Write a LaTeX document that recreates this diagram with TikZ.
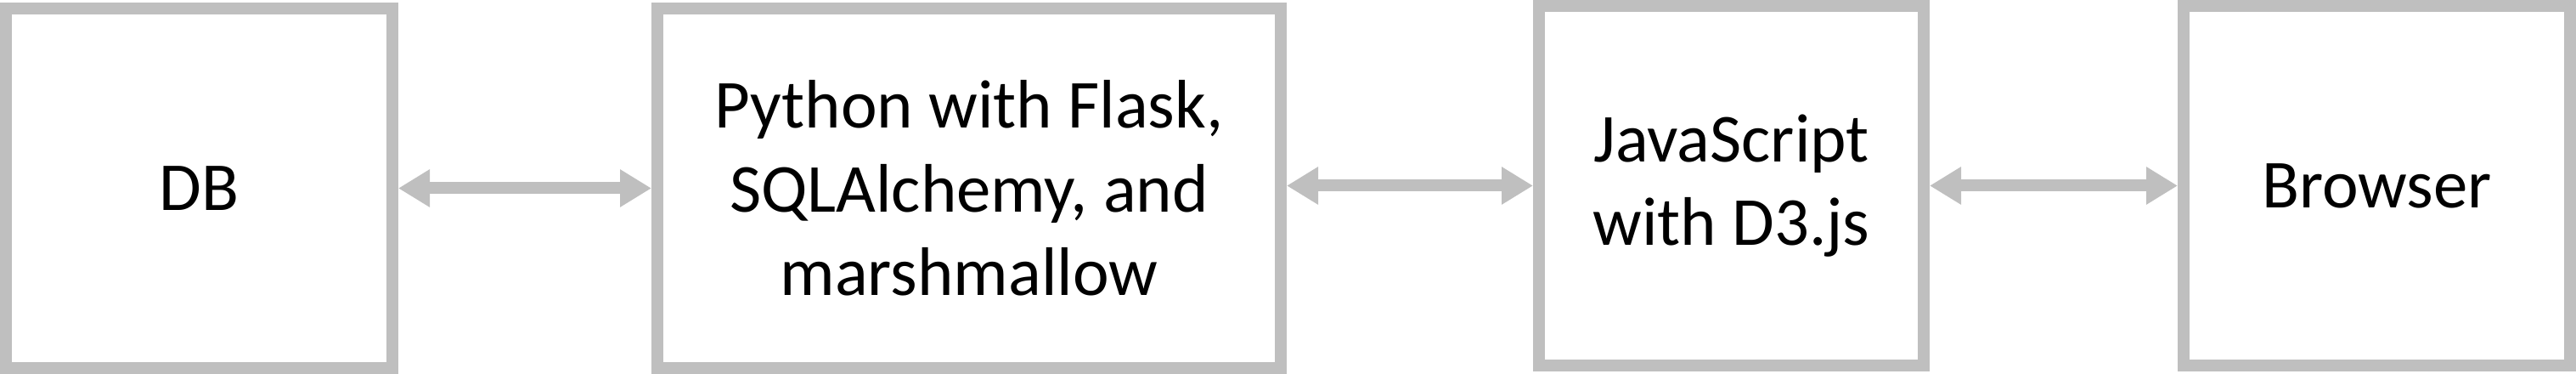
\documentclass[tikz,border=0pt]{standalone}
\usepackage{fontspec}
\setmainfont{Carlito}
\usetikzlibrary{arrows.meta}
\definecolor{boxgray}{RGB}{191,191,191}
\tikzset{
  blockbox/.style={draw=boxgray, line width=0.14cm, inner sep=0pt,
    minimum height=4.23cm, align=center, text=black,
    font=\fontsize{23}{28}\selectfont},
  link/.style={draw=boxgray, line width=0.14cm,
    {Triangle[length=0.37cm,width=0.42cm]}-{Triangle[length=0.37cm,width=0.42cm]}}
}
\begin{document}
\begin{tikzpicture}
\useasboundingbox (0,0) rectangle (30.33,4.40);
\node[blockbox, minimum width=4.55cm] (db) at (2.345,2.185) {DB};
\node[blockbox, minimum width=7.34cm] (py) at (11.41,2.185) {Python with Flask,\\SQLAlchemy, and\\marshmallow};
\node[blockbox, minimum width=4.53cm] (js) at (20.385,2.215) {JavaScript\\with D3.js};
\node[blockbox, minimum width=4.55cm] (br) at (27.985,2.215) {Browser};
\draw[link] (db.east) -- (py.west);
\draw[link] (js.west -| py.east) -- (js.west);
\draw[link] (js.east) -- (br.west);
\end{tikzpicture}
\end{document}
